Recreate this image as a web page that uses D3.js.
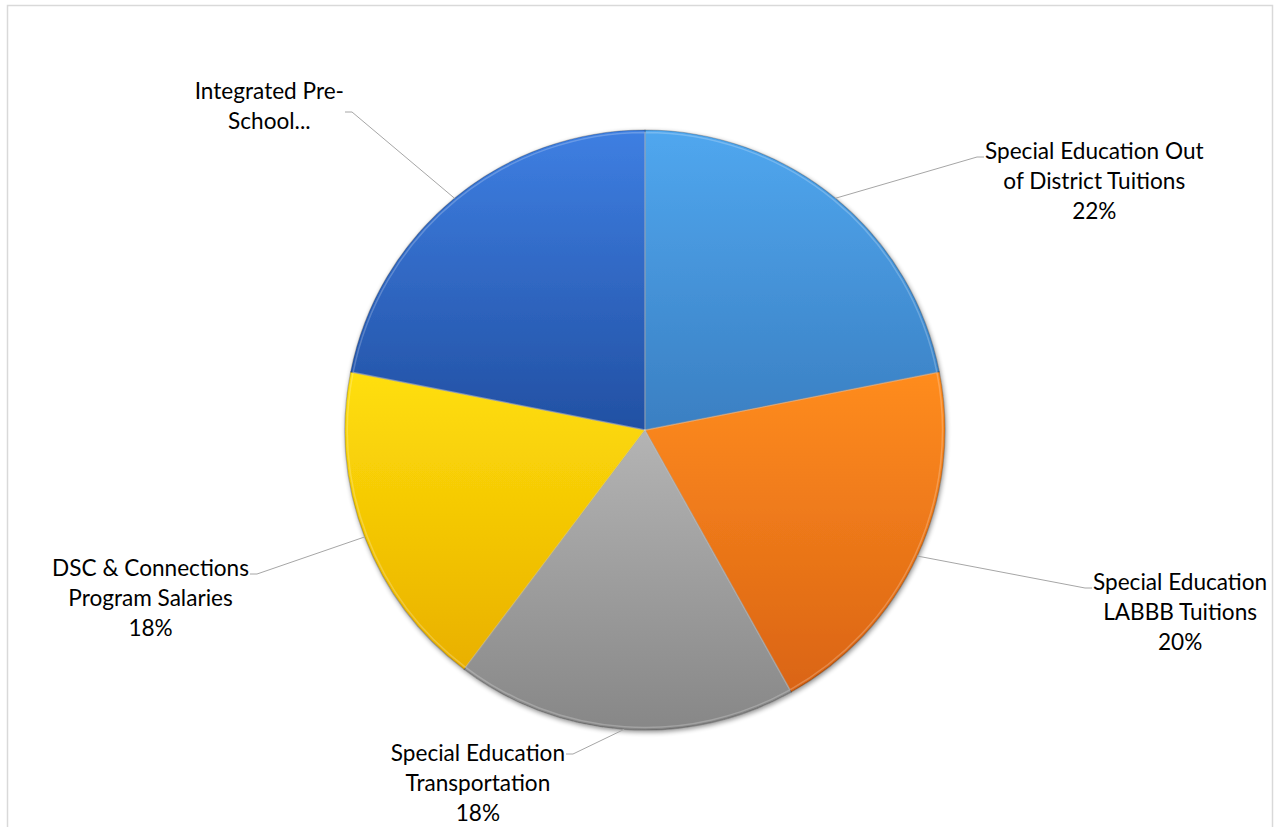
<!DOCTYPE html>
<html>
<head>
<meta charset="utf-8">
<script src="https://cdn.jsdelivr.net/npm/d3@7"></script>
<style>
	html, body { margin:0; padding:0; background:#fff; }
	.chart-svg text { font-family: Lato, "Open Sans", sans-serif; font-size:22.6px; fill:#000; }
</style>
</head>
<body>
<div id="chart"></div>
<script>
'use strict';

// slices, clockwise from 12 o'clock
const categories = [
	"Special Education Out of District Tuitions",
	"Special Education LABBB Tuitions",
	"Special Education Transportation",
	"DSC & Connections Program Salaries",
	"Integrated Pre-School Programs"
];
const values = [21.9, 20.0, 18.4, 17.8, 21.9];

// label lines as shown (pre-school label is truncated in the original)
const labelLines = [
	["Special Education Out", "of District Tuitions"],
	["Special Education", "LABBB Tuitions"],
	["Special Education", "Transportation"],
	["DSC & Connections", "Program Salaries"],
	["Integrated Pre-", "School..."]
];
const showPercent = [true, true, true, true, false];

const colorsTop = ["#50a7ef", "#ff8c1f", "#b4b4b4", "#ffdf0a", "#3e7fe2"];
const colorsBottom = ["#3a7fc2", "#da6414", "#878787", "#e9b000", "#2250a3"];

const W = 1275, H = 827;
const cx = 645, cy = 430, R = 300;
const lineH = 30;

// label layout: elbow point relative to centre, text side, baseline shift of first line
const labelLayout = [
	{ ex: 332, ey: -273, side: "right", shift: 2 },
	{ ex: 440, ey: 158, side: "right", shift: 2 },
	{ ex: -72, ey: 324, side: "left", shift: 7 },
	{ ex: -388, ey: 144, side: "left", shift: 2 },
	{ ex: -293, ey: -318, side: "left", shift: -13 }
];

const svg = d3.select("#chart")
			  .append("svg")
			  .attr("class", "chart-svg")
			  .attr("width", W)
			  .attr("height", H);

const defs = svg.append("defs");

categories.forEach((c, i) => {
	const g = defs.append("linearGradient")
				  .attr("id", `grad-${i}`)
				  .attr("x1", 0).attr("y1", 0)
				  .attr("x2", 0).attr("y2", 1);
	g.append("stop").attr("offset", "0%").attr("stop-color", colorsTop[i]);
	g.append("stop").attr("offset", "100%").attr("stop-color", colorsBottom[i]);
});

const shadow = defs.append("filter")
				   .attr("id", "shadow")
				   .attr("x", "-10%").attr("y", "-10%")
				   .attr("width", "120%").attr("height", "120%");
shadow.append("feGaussianBlur").attr("in", "SourceAlpha").attr("stdDeviation", 2.5).attr("result", "blur");
shadow.append("feOffset").attr("in", "blur").attr("dx", 1).attr("dy", 2).attr("result", "off");
shadow.append("feComponentTransfer").attr("in", "off").attr("result", "soft")
	  .append("feFuncA").attr("type", "linear").attr("slope", 0.45);
const merge = shadow.append("feMerge");
merge.append("feMergeNode").attr("in", "soft");
merge.append("feMergeNode").attr("in", "SourceGraphic");

// chart border
svg.append("rect")
   .attr("x", 7.5).attr("y", 5.5)
   .attr("width", 1265).attr("height", 840)
   .attr("fill", "none")
   .attr("stroke", "#d9d9d9")
   .attr("stroke-width", 1.5);

const pie = d3.pie().sort(null).value(d => d);
const arcs = pie(values);

const arc = d3.arc().innerRadius(0).outerRadius(R);

const gPie = svg.append("g")
				.attr("transform", `translate(${cx},${cy})`)
				.attr("filter", "url(#shadow)");

gPie.selectAll("path.slice")
	.data(arcs)
	.enter()
	.append("path")
	.attr("class", "slice")
	.attr("d", arc)
	.attr("fill", (d, i) => `url(#grad-${i})`)
	.attr("stroke", "rgba(0,0,0,0.22)")
	.attr("stroke-width", 1.2);

// inner highlight for a soft bevel look
const arcIn = d3.arc().innerRadius(0).outerRadius(R - 2.5);
gPie.selectAll("path.hi")
	.data(arcs)
	.enter()
	.append("path")
	.attr("class", "hi")
	.attr("d", arcIn)
	.attr("fill", "none")
	.attr("stroke", "rgba(255,255,255,0.22)")
	.attr("stroke-width", 1.5);

// labels + leader lines
const gLab = svg.append("g").attr("transform", `translate(${cx},${cy})`);
const fmt = d3.format(".0%");
const total = d3.sum(values);

arcs.forEach((d, i) => {
	const L = labelLayout[i];
	const mid = (d.startAngle + d.endAngle) / 2;
	const p0 = [R * Math.sin(mid), -R * Math.cos(mid)];
	const dir = L.side === "right" ? 1 : -1;
	const p2 = [L.ex + dir * 7, L.ey];

	gLab.append("path")
		.attr("d", d3.line()([p0, [L.ex, L.ey], p2]))
		.attr("fill", "none")
		.attr("stroke", "#a6a6a6")
		.attr("stroke-width", 1);

	const lines = labelLines[i].slice();
	if (showPercent[i]) lines.push(fmt(values[i] / total));

	const t = gLab.append("text").attr("text-anchor", "middle");
	const tmp = t.append("tspan").text(lines[0]);
	const w = tmp.node().getComputedTextLength();
	tmp.remove();

	const tx = p2[0] + dir * (w / 2 + 1);
	const firstBase = L.ey + L.shift;
	lines.forEach((s, k) => {
		t.append("tspan")
		 .attr("x", tx)
		 .attr("y", firstBase + k * lineH)
		 .text(s);
	});
});
</script>
</body>
</html>
